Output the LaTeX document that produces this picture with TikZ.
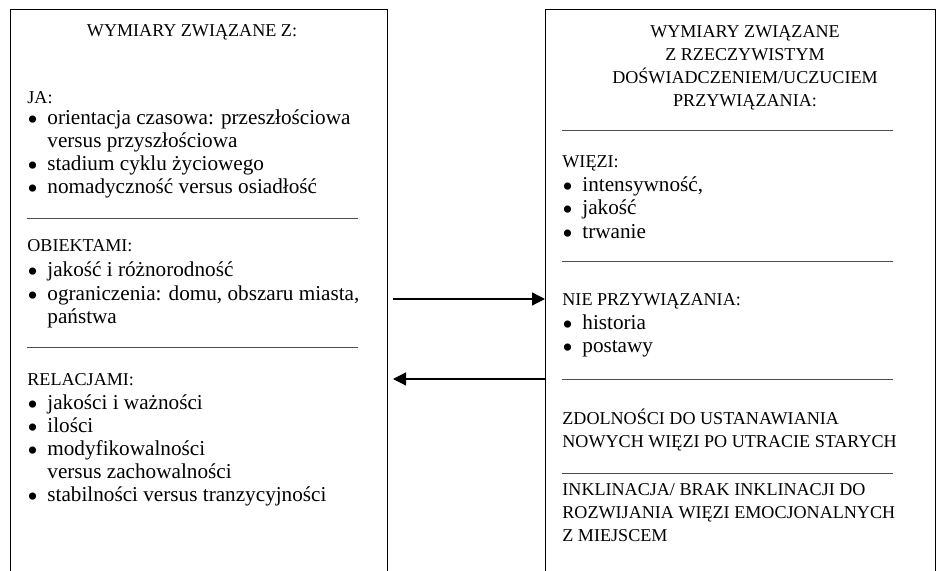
\documentclass[tikz,border=0pt]{standalone}
\usepackage{fontspec}
\setmainfont{Liberation Serif}
\usepackage{tikz}
\usetikzlibrary{arrows.meta,positioning}
\tikzset{
  wy diagram/.style={x=0.5pt,y=-0.5pt,line join=miter},
  wy ramka/.style={draw=black, line width=0.6pt, anchor=north west,
    minimum height=300pt, inner sep=0pt},
  wy naglowek/.style={font=\fontsize{9.05}{11.65}\selectfont,
    anchor=base west, inner sep=0pt, align=left},
  wy tytul/.style={wy naglowek, anchor=base, align=center},
  wy punkt/.style={font=\fontsize{10.6}{11.65}\selectfont,
    anchor=base west, inner sep=0pt, align=left},
  wy kropka/.style={anchor=base west, inner sep=0pt,
    font=\fontsize{15}{15}\selectfont},
  wy kreska/.style={draw=black!70, line width=0.5pt},
  wy strzalka/.style={-{Triangle[length=6.5pt,width=6.5pt]}, line width=0.6pt}
}
% multi-line nodes sit on the baseline of their last line
\begin{document}
\begin{tikzpicture}[wy diagram]
\useasboundingbox (0,0) rectangle (948,571);
\clip (0,0) rectangle (948,571);
% the two frames run past the lower edge
\node[wy ramka, minimum width=188.5pt] (lewy) at (10,9) {};
\node[wy ramka, minimum width=195pt] (prawy) at (545,9) {};

% left frame
\node[wy tytul] (lewy tytul) at (192,37) {WYMIARY ZWIĄZANE Z:};
\node[wy naglowek] (ja) at (27,104) {JA:};
\foreach \y/\ty/\t [count=\i] in {125/148/{orientacja czasowa: przeszłościowa\\versus przyszłościowa},
    171/171/{stadium cyklu życiowego}, 194/194/{nomadyczność versus osiadłość}}{
  \node[wy kropka] (ja kropka\i) at (27,\y) {\raisebox{-2.3pt}[0pt][0pt]{\textbullet}};
  \node[wy punkt] (ja punkt\i) at (47,\ty) {\t};
}
\draw[wy kreska] (27,219) -- (358,219);
\node[wy naglowek] (obiekty) at (27,252) {OBIEKTAMI:};
\foreach \y/\ty/\t [count=\i] in {277/277/{jakość i różnorodność},
    301/324/{ograniczenia: domu, obszaru miasta,\\państwa}}{
  \node[wy kropka] (ob kropka\i) at (27,\y) {\raisebox{-2.3pt}[0pt][0pt]{\textbullet}};
  \node[wy punkt] (ob punkt\i) at (47,\ty) {\t};
}
\draw[wy kreska] (27,348) -- (358,348);
\node[wy naglowek] (relacje) at (27,386) {RELACJAMI:};
\foreach \y/\ty/\t [count=\i] in {410/410/{jakości i ważności}, 433/433/{ilości},
    456/479/{modyfikowalności\\versus zachowalności}, 502/502/{stabilności versus tranzycyjności}}{
  \node[wy kropka] (rel kropka\i) at (27,\y) {\raisebox{-2.3pt}[0pt][0pt]{\textbullet}};
  \node[wy punkt] (rel punkt\i) at (47,\ty) {\t};
}

% right frame
\node[wy tytul] (prawy tytul) at (745,107)
  {WYMIARY ZWIĄZANE\\Z RZECZYWISTYM\\DOŚWIADCZENIEM/UCZUCIEM\\PRZYWIĄZANIA:};
\draw[wy kreska] (562,131) -- (893,131);
\node[wy naglowek] (wiezi) at (562,168) {WIĘZI:};
\foreach \y/\t [count=\i] in {192/{intensywność,}, 215/{jakość}, 239/{trwanie}}{
  \node[wy kropka] (wi kropka\i) at (562,\y) {\raisebox{-2.3pt}[0pt][0pt]{\textbullet}};
  \node[wy punkt] (wi punkt\i) at (582,\y) {\t};
}
\draw[wy kreska] (562,262) -- (893,262);
\node[wy naglowek] (nie) at (562,306) {NIE PRZYWIĄZANIA:};
\foreach \y/\t [count=\i] in {330/{historia}, 353/{postawy}}{
  \node[wy kropka] (nie kropka\i) at (562,\y) {\raisebox{-2.3pt}[0pt][0pt]{\textbullet}};
  \node[wy punkt] (nie punkt\i) at (582,\y) {\t};
}
\draw[wy kreska] (562,380) -- (893,380);
\node[wy naglowek] (zdolnosci) at (562,448)
  {ZDOLNOŚCI DO USTANAWIANIA\\NOWYCH WIĘZI PO UTRACIE STARYCH};
\draw[wy kreska] (562,474) -- (893,474);
\node[wy naglowek] (inklinacja) at (562,542)
  {INKLINACJA/ BRAK INKLINACJI DO\\ROZWIJANIA WIĘZI EMOCJONALNYCH\\Z MIEJSCEM};

% arrows between the frames
\coordinate (tam) at (393,299);
\coordinate (z powrotem) at (393,379);
\draw[wy strzalka] (tam) -- (prawy.west |- tam);
\draw[wy strzalka] (prawy.west |- z powrotem) -- (z powrotem);
\end{tikzpicture}
\end{document}
